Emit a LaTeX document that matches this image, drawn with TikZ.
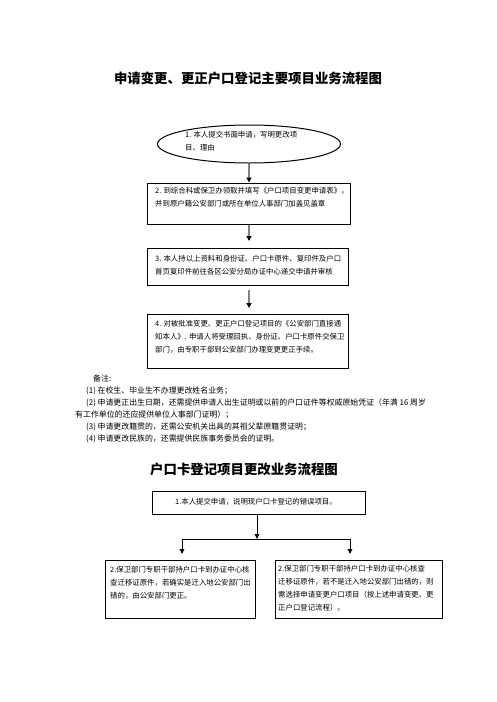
\documentclass[tikz,border=0pt]{standalone}
\usepackage{fontspec}
\newfontfamily\cjk{Noto Sans CJK SC}
\usetikzlibrary{arrows.meta,shapes.geometric}
\begin{document}
\begin{tikzpicture}[x=1pt,y=-1pt,
  txt/.style={font=\cjk\fontsize{7.4}{13}\selectfont, align=left, inner sep=0pt, anchor=north west},
  note/.style={font=\cjk\fontsize{7.9}{12}\selectfont, align=left, inner sep=0pt, anchor=north west},
  ttl/.style={font=\cjk\bfseries\fontsize{13.4}{16}\selectfont, inner sep=0pt},
  box/.style={draw, line width=1.1pt, inner sep=0pt, anchor=north west},
  garr/.style={draw=black!50, line width=2pt, -{Triangle[black,length=5pt,width=5pt]}},
  barr/.style={draw, line width=0.9pt, -{Triangle[length=5pt,width=4.5pt]}},
]
\useasboundingbox (0,0) rectangle (496,702);

% ---- first chart ----
\node[ttl] (t1) at (248,78) {申请变更、更正户口登记主要项目业务流程图};

\node[draw, ellipse, line width=1pt, minimum width=183pt, minimum height=38pt, inner sep=0pt] (e1) at (249,144) {};
\node[txt] (e1t) at (185,131.3) {1. 本人提交书面申请，写明更改项\\目、理由};

\node[box, minimum width=203pt, minimum height=41pt] (b2) at (147,183) {};
\node[txt] (b2t) at (155,187.3) {2. 到综合科或保卫办领取并填写《户口项目变更申请表》，\\并到原户籍公安部门或所在单位人事部门加盖见盖章};

\node[box, minimum width=201pt, minimum height=37pt] (b3) at (147,248) {};
\node[txt] (b3t) at (155,255.3) {3. 本人持以上资料和身份证、户口卡原件、复印件及户口\\首页复印件前往各区公安分局办证中心递交申请并审核};

\node[box, minimum width=201pt, minimum height=54pt] (b4) at (147,314) {};
\node[txt] (b4t) at (155,320.3) {4. 对被批准变更、更正户口登记项目的《公安部门直接通\\知本人》. 申请人将受理回执、身份证、户口卡原件交保卫\\部门，由专职干部到公安部门办理变更更正手续。};

\draw[garr, shorten >=0.5pt] (e1.south) -- (e1.south |- b2.north);
\draw[garr, shorten >=7pt] (e1.south |- b2.south) -- (e1.south |- b3.north);
\draw[garr, shorten <=4pt, shorten >=6pt] (e1.south |- b3.south) -- (e1.south |- b4.north);

% ---- notes ----
\node[note] (n0) at (93,374.2) {备注:};
\node[note] (n1) at (86,386.2) {(1) 在校生、毕业生不办理更改姓名业务；};
\node[note] (n2) at (86,398.2) {(2) 申请更正出生日期，还需提供申请人出生证明或以前的户口证件等权威原始凭证（年满 16 周岁};
\node[note] (n2b) at (75,410.2) {有工作单位的还应提供单位人事部门证明）；};
\node[note] (n3) at (86,422.2) {(3) 申请更改籍贯的，还需公安机关出具的其祖父辈原籍贯证明；};
\node[note] (n4) at (86,434.2) {(4) 申请更改民族的，还需提供民族事务委员会的证明。};

% ---- second chart ----
\node[ttl] (t2) at (244,469) {户口卡登记项目更改业务流程图};

\node[box, minimum width=213pt, minimum height=23pt] (b5) at (152,491) {};
\node[txt] (b5t) at (175,498.3) {1.本人提交申请，说明现户口卡登记的错误项目。};

\node[box, minimum width=150pt, minimum height=58pt] (b6) at (105,560) {};
\node[txt] (b6t) at (110,566.3) {2.保卫部门专职干部持户口卡到办证中心核\\查迁移证原件，若确实是迁入地公安部门出\\错的，由公安部门更正。};

\node[box, minimum width=167pt, minimum height=58pt] (b7) at (275,560) {};
\node[txt] (b7t) at (278,565.3) {2.保卫部门专职干部持户口卡到办证中心核查\\迁移证原件，若不是迁入地公安部门出错的，则\\需选择申请变更户口项目（按上述申请变更、更\\正户口登记流程）。};

\coordinate (jC) at (257,539);
\coordinate (jL) at (182,539);
\coordinate (jR) at (350,539);

\draw[barr] (b5.south -| jC) -- (jC);
\draw[line width=0.9pt] (jL) -- (jR);
\draw[barr, shorten >=6pt] (jL) -- (jL |- b6.north);
\draw[barr, shorten >=6pt] (jR) -- (jR |- b7.north);
\end{tikzpicture}
\end{document}
